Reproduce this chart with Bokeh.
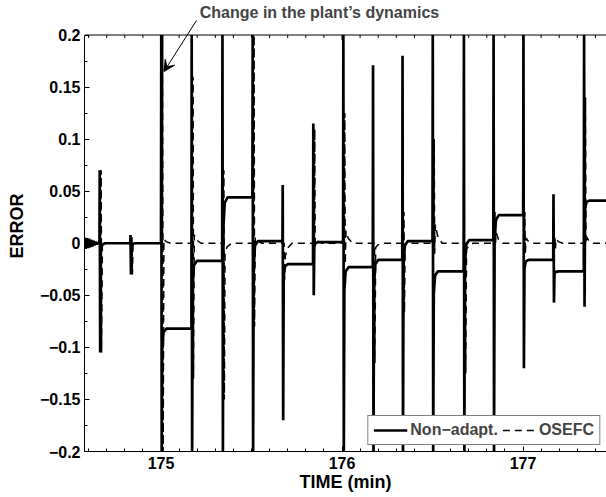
import numpy as np
from bokeh.plotting import figure
from bokeh.models import (Range1d, FixedTicker, Label, Arrow, VeeHead, Span,
                          Legend, LegendItem)
from bokeh.embed import file_html
from bokeh.resources import INLINE

# ---------------- data ----------------
event_t = [174.660, 174.830, 175.000, 175.168, 175.338, 175.505, 175.671, 175.840,
           176.006, 176.170, 176.333, 176.500, 176.672, 176.836, 177.001, 177.167, 177.336]

nonadapt_up = [0.070, 0.008, 0.30, 0.30, 0.30, 0.30, 0.056, 0.115, 0.30, 0.171,
               0.180, 0.30, 0.30, 0.30, 0.30, 0.047, 0.30]
nonadapt_dn = [-0.105, -0.030, -0.30, -0.30, -0.30, -0.30, -0.170, -0.050, -0.30, -0.30,
               -0.30, -0.30, -0.30, -0.30, -0.120, -0.057, -0.061]
nonadapt_level = [0.0, 0.0, -0.082, -0.017, 0.044, 0.002, -0.020, 0.001, -0.023, -0.016,
                  0.002, -0.027, 0.003, 0.027, -0.016, -0.027, 0.041]

osefc_up = [0.070, 0.008, 0.30, 0.16, 0.07, 0.30, 0.0, 0.11, 0.125, 0.0,
            0.03, 0.10, 0.0, 0.03, 0.03, 0.005, 0.14]
osefc_dn = [-0.105, -0.030, -0.30, -0.13, -0.15, -0.08, -0.035, 0.0, -0.02, -0.115,
            -0.067, -0.01, -0.125, 0.0, -0.01, -0.005, 0.0]
osefc_tail = [0.0, 0.0, 0.004, 0.008, -0.008, 0.006, -0.012, 0.004, 0.012, -0.004,
              0.0, 0.018, -0.006, 0.010, 0.005, 0.004, 0.006]

start_osc = [0.0055, -0.0053, 0.0050, -0.0047, 0.0043, -0.0039, 0.0035, -0.0030,
             0.0025, -0.0020, 0.0015, -0.0010, 0.0005, 0.0]

x_ticks = [175, 176, 177]
x_minor = [174.6, 174.7, 174.8, 174.9, 175.1, 175.2, 175.3, 175.4, 175.5, 175.6, 175.7,
           175.8, 175.9, 176.1, 176.2, 176.3, 176.4, 176.5, 176.6, 176.7, 176.8, 176.9,
           177.1, 177.2, 177.3, 177.4]
y_ticks = [-0.2, -0.15, -0.1, -0.05, 0, 0.05, 0.1, 0.15, 0.2]
y_minor = [-0.175, -0.125, -0.075, -0.025, 0.025, 0.075, 0.125, 0.175]
y_labels = ["\u22120.2", "\u22120.15", "\u22120.1", "\u22120.05", "0", "0.05", "0.1", "0.15", "0.2"]

# axis limits of the reference (the frame is extended above the 0.2 limit so the
# annotation arrow and text can be drawn; data are clipped to the limits)
YMIN, YMAX = -0.2, 0.2
PX_X = 181.0                  # pixels per minute
PX_Y = 416.5 / 0.4            # pixels per error unit
X0 = 175 - 76.5 / PX_X
X1 = X0 + 522 / PX_X
YTOP = YMAX + 34.5 / PX_Y


def build(up, dn, after, tails=None, shift=0.0):
    xs = list(np.linspace(X0, event_t[0] - 0.004, len(start_osc)))
    ys = list(start_osc)
    prev = 0.0
    for i, t in enumerate(event_t):
        t = t + shift
        if tails is None:
            L = after[i]
            xs += [t, t + 0.0015, t + 0.004, t + 0.007, t + 0.014, t + 0.03]
            ys += [prev, up[i], dn[i], L + 0.08 * (dn[i] - L), L + 0.015 * (dn[i] - L), L]
            prev = L
        else:
            T = tails[i]
            xs += [t, t + 0.0015, t + 0.004, t + 0.008, t + 0.02, t + 0.045]
            ys += [prev, up[i], dn[i], T, 0.4 * T, 0.0]
            prev = 0.0
    xs.append(X1)
    ys.append(prev)
    return xs, list(np.clip(ys, YMIN, YMAX))


sx, sy = build(nonadapt_up, nonadapt_dn, nonadapt_level)
ox, oy = build(osefc_up, osefc_dn, None, tails=osefc_tail, shift=0.008)

FONT = "Liberation Sans"

p = figure(width=606, height=497, x_range=Range1d(X0, X1), y_range=Range1d(YMIN, YTOP),
           output_backend="svg", toolbar_location=None,
           min_border_left=84, min_border_right=0, min_border_top=0, min_border_bottom=46)
p.grid.visible = False
p.outline_line_color = None
p.background_fill_color = "white"
p.border_fill_color = "white"

r1 = p.line(sx, sy, line_color="black", line_width=2.7)
r2 = p.line(ox, oy, line_color="black", line_width=1.5, line_dash="7 5")

# box top and its ticks
p.add_layout(Span(location=YMAX, dimension="width", line_color="black", line_width=1))
p.segment(x0=x_ticks, y0=[YMAX] * len(x_ticks), x1=x_ticks,
          y1=[YMAX - 5 / PX_Y] * len(x_ticks), line_color="black", line_width=1)
p.segment(x0=x_minor, y0=[YMAX] * len(x_minor), x1=x_minor,
          y1=[YMAX - 3 / PX_Y] * len(x_minor), line_color="black", line_width=1)

# axes
p.xaxis.ticker = FixedTicker(ticks=x_ticks, minor_ticks=x_minor)
p.yaxis.ticker = FixedTicker(ticks=y_ticks, minor_ticks=y_minor)
p.yaxis.bounds = (YMIN, YMAX)
p.yaxis.major_label_overrides = {k: v for k, v in zip(y_ticks, y_labels)}
for ax in (p.xaxis[0], p.yaxis[0]):
    ax.major_tick_in = 5
    ax.major_tick_out = 0
    ax.minor_tick_in = 3
    ax.minor_tick_out = 0
    ax.axis_line_color = "black"
    ax.major_tick_line_color = "black"
    ax.minor_tick_line_color = "black"
    ax.major_label_text_font = FONT
    ax.major_label_text_font_style = "bold"
    ax.major_label_text_font_size = "16px"
    ax.major_label_text_color = "black"
    ax.axis_label_text_font = FONT
    ax.axis_label_text_font_style = "bold"
    ax.axis_label_text_font_size = "18px"
    ax.axis_label_text_color = "black"
p.xaxis.major_label_standoff = 5
p.yaxis.major_label_standoff = 4
p.xaxis.axis_label = "TIME (min)"
p.yaxis.axis_label = "ERROR"
p.xaxis.axis_label_standoff = 0
p.yaxis.axis_label_standoff = 10

# annotation
p.add_layout(Label(x=X0 + (319 - 84) / PX_X, y=YMAX + 22.5 / PX_Y,
                   text="Change in the plant\u2019s dynamics", text_font=FONT,
                   text_font_style="bold", text_font_size="16px", text_align="center",
                   text_baseline="middle"))
p.add_layout(Arrow(end=VeeHead(size=11, fill_color="black", line_color="black"),
                   x_start=X0 + (196 - 84) / PX_X, y_start=YMAX + 14.5 / PX_Y,
                   x_end=X0 + (163.5 - 84) / PX_X, y_end=YMAX - (71 - 34.5) / PX_Y,
                   line_color="black", line_width=1))

legend = Legend(items=[LegendItem(label="Non\u2212adapt.", renderers=[r1]),
                       LegendItem(label="OSEFC", renderers=[r2])],
                orientation="horizontal", location="bottom_right", margin=6,
                padding=5, spacing=4, label_standoff=3, glyph_width=34, glyph_height=16,
                label_height=16, label_text_font=FONT, label_text_font_style="bold",
                label_text_font_size="16px", border_line_color="black", border_line_width=1,
                background_fill_alpha=1.0)
p.add_layout(legend)

open("out.html", "w").write(file_html(p, INLINE))
